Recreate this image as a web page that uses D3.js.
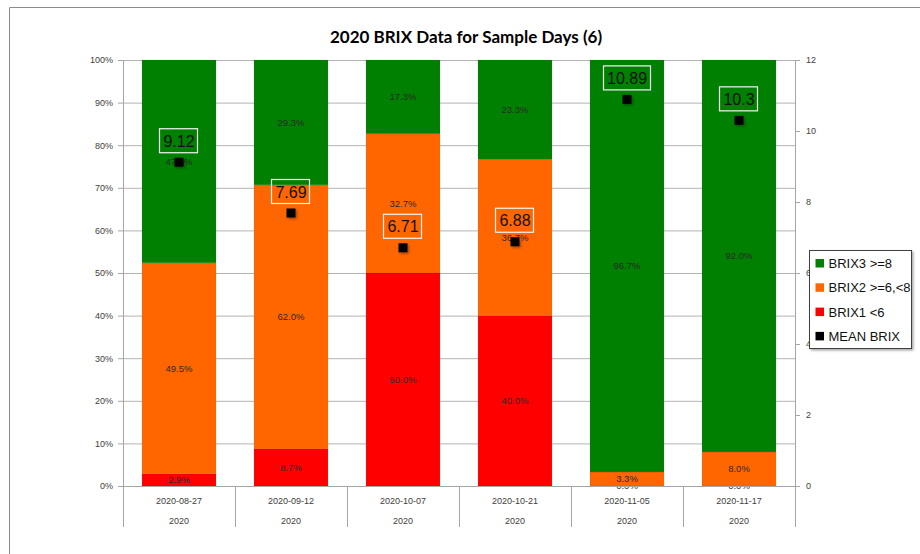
<!DOCTYPE html>
<head>
<meta charset="utf-8">
<style>
  body { margin: 0; background: #fff; }
  svg { font-family: "Liberation Sans", Arial, sans-serif; }
  .axis path, .axis line { stroke: #a6a6a6; }
  .axis text { fill: #404040; font-size: 9px; }
  .grid line { stroke: #b3b3b3; }
  .grid path { display: none; }
  .pct { font-size: 9.5px; fill: #2a2a2a; text-anchor: middle; }
  .cat { font-size: 10.5px; fill: #333; text-anchor: middle; }
</style>
</head>
<body>
<script src="https://d3js.org/d3.v7.min.js"></script>
<script>
// sample days and the share of each brix class (percent)
var dates = ["2020-08-27", "2020-09-12", "2020-10-07", "2020-10-21", "2020-11-05", "2020-11-17"];
var years = ["2020", "2020", "2020", "2020", "2020", "2020"];
var brix1 = [2.9, 8.7, 50.0, 40.0, 0.0, 0.0];
var brix2 = [49.5, 62.0, 32.7, 36.7, 3.3, 8.0];
var brix3 = [47.6, 29.3, 17.3, 23.3, 96.7, 92.0];
var meanBrix = [9.12, 7.69, 6.71, 6.88, 10.89, 10.3];

var seriesNames = ["BRIX3 >=8", "BRIX2 >=6,<8", "BRIX1 <6", "MEAN BRIX"];
var colors = {brix1: "#ff0000", brix2: "#ff6600", brix3: "#008000"};

var W = 920, H = 554;
var margin = {top: 60, right: 125, bottom: 68, left: 123};
var width = W - margin.left - margin.right,   // 672
    height = H - margin.top - margin.bottom;  // 426

var svg = d3.select("body").append("svg")
    .attr("width", W)
    .attr("height", H);

// outer chart border (runs off right and bottom like the screenshot)
svg.append("path")
    .attr("d", "M9.5,560 V7.5 H930")
    .attr("fill", "none")
    .attr("stroke", "#8c8c8c");

svg.append("text")
    .attr("x", 466)
    .attr("y", 43)
    .attr("text-anchor", "middle")
    .style("font-family", "Lato, sans-serif")
    .style("font-weight", "bold")
    .style("font-size", "17px")
    .style("fill", "#000")
    .text("2020 BRIX Data for Sample Days (6)");

var g = svg.append("g")
    .attr("transform", "translate(" + margin.left + "," + margin.top + ")");

var x = d3.scaleBand().domain(dates).range([0, width]).paddingInner(0.34).paddingOuter(0.17);
var y = d3.scaleLinear().domain([0, 1]).range([height, 0]);
var y2 = d3.scaleLinear().domain([0, 12]).range([height, 0]);

// gridlines
g.append("g")
    .attr("class", "grid")
    .call(d3.axisLeft(y).tickValues(d3.range(0, 1.01, 0.1)).tickSize(-width).tickFormat(""));

// stacked bars
var table = dates.map(function(d, i) {
  return {date: d, brix1: brix1[i] / 100, brix2: brix2[i] / 100, brix3: brix3[i] / 100};
});
var stack = d3.stack().keys(["brix1", "brix2", "brix3"]);
var layers = stack(table);

var layer = g.selectAll(".layer")
    .data(layers)
  .enter().append("g")
    .attr("class", "layer")
    .attr("fill", function(d) { return colors[d.key]; });

layer.selectAll("rect")
    .data(function(d) { return d; })
  .enter().append("rect")
    .attr("x", function(d) { return x(d.data.date); })
    .attr("y", function(d) { return y(d[1]); })
    .attr("width", x.bandwidth())
    .attr("height", function(d) { return y(d[0]) - y(d[1]); })
    .attr("stroke", "rgba(0,0,0,0.08)")
    .attr("stroke-width", 1);

// percent labels
layer.selectAll("text")
    .data(function(d) { return d; })
  .enter().append("text")
    .attr("class", "pct")
    .attr("x", function(d) { return x(d.data.date) + x.bandwidth() / 2; })
    .attr("y", function(d) { return (y(d[0]) + y(d[1])) / 2; })
    .attr("dy", "0.35em")
    .text(function(d) { return d3.format(".1%")(d[1] - d[0]); });

// left axis
var leftAxis = g.append("g")
    .attr("class", "axis")
    .call(d3.axisLeft(y).tickValues(d3.range(0, 1.01, 0.1)).tickFormat(d3.format(".0%")).tickSize(5).tickPadding(5));
leftAxis.select(".domain").attr("d", "M0.5," + (height + 41) + "V0.5");

// right axis
var rightAxis = g.append("g")
    .attr("class", "axis")
    .attr("transform", "translate(" + width + ",0)")
    .call(d3.axisRight(y2).tickValues(d3.range(0, 13, 2)).tickSize(5).tickPadding(6));
rightAxis.select(".domain").attr("d", "M0.5," + (height + 41) + "V0.5");

// category axis: baseline, dividers, two label rows
var cat = g.append("g").attr("class", "axis");
cat.append("line")
    .attr("x1", -5).attr("x2", width)
    .attr("y1", height + 0.5).attr("y2", height + 0.5);
cat.selectAll(".div")
    .data(dates.slice(1))
  .enter().append("line")
    .attr("class", "div")
    .attr("x1", function(d) { return Math.round(x(d) - x.step() * x.paddingInner() / 2) + 0.5; })
    .attr("x2", function(d) { return Math.round(x(d) - x.step() * x.paddingInner() / 2) + 0.5; })
    .attr("y1", height).attr("y2", height + 41);
cat.selectAll(".date")
    .data(dates)
  .enter().append("text")
    .attr("class", "cat")
    .attr("x", function(d) { return x(d) + x.bandwidth() / 2; })
    .attr("y", height + 15)
    .attr("dy", "0.35em")
    .text(function(d) { return d; });
cat.selectAll(".year")
    .data(years)
  .enter().append("text")
    .attr("class", "cat")
    .attr("x", function(d, i) { return x(dates[i]) + x.bandwidth() / 2; })
    .attr("y", height + 35)
    .attr("dy", "0.35em")
    .text(function(d) { return d; });

// mean brix markers with shadow
var defs = svg.append("defs");
var f = defs.append("filter").attr("id", "shadow").attr("x", "-50%").attr("y", "-50%").attr("width", "200%").attr("height", "200%");
f.append("feDropShadow").attr("dx", 1.5).attr("dy", 1.5).attr("stdDeviation", 1).attr("flood-color", "#000").attr("flood-opacity", 0.35);

var means = g.selectAll(".mean")
    .data(meanBrix)
  .enter().append("g")
    .attr("class", "mean")
    .attr("transform", function(d, i) {
      return "translate(" + (x(dates[i]) + x.bandwidth() / 2) + "," + y2(d) + ")";
    });

means.append("rect")
    .attr("x", -4.5).attr("y", -4.5)
    .attr("width", 9).attr("height", 9)
    .attr("fill", "#000")
    .attr("filter", "url(#shadow)");

var lbl = means.append("text")
    .attr("y", -21)
    .attr("dy", "0.35em")
    .attr("text-anchor", "middle")
    .style("font-size", "16px")
    .style("fill", "#111")
    .text(function(d) { return d; });

lbl.each(function() {
  var bb = this.getBBox();
  d3.select(this.parentNode).insert("rect", "text")
      .attr("x", Math.round(bb.x) - 3.5)
      .attr("y", -33.5)
      .attr("width", Math.round(bb.width) + 7)
      .attr("height", 24)
      .attr("fill", "none")
      .attr("stroke", "#f4f4f4")
      .attr("stroke-width", 1.2);
});

// legend
var legend = svg.append("g").attr("transform", "translate(809.5,250.5)");
legend.append("rect")
    .attr("width", 102).attr("height", 98)
    .attr("fill", "#fff")
    .attr("stroke", "#404040")
    .attr("filter", "url(#shadow)");
var legendColors = [colors.brix3, colors.brix2, colors.brix1, "#000"];
var item = legend.selectAll(".item")
    .data(seriesNames)
  .enter().append("g")
    .attr("class", "item")
    .attr("transform", function(d, i) { return "translate(6," + (13 + i * 24.3) + ")"; });
item.append("rect")
    .attr("x", 0).attr("y", -4.5)
    .attr("width", 8.5).attr("height", 8.5)
    .attr("fill", function(d, i) { return legendColors[i]; });
item.append("text")
    .attr("x", 13)
    .attr("dy", "0.35em")
    .style("font-size", "13px")
    .style("fill", "#111")
    .text(function(d) { return d; });
</script>
</body>
